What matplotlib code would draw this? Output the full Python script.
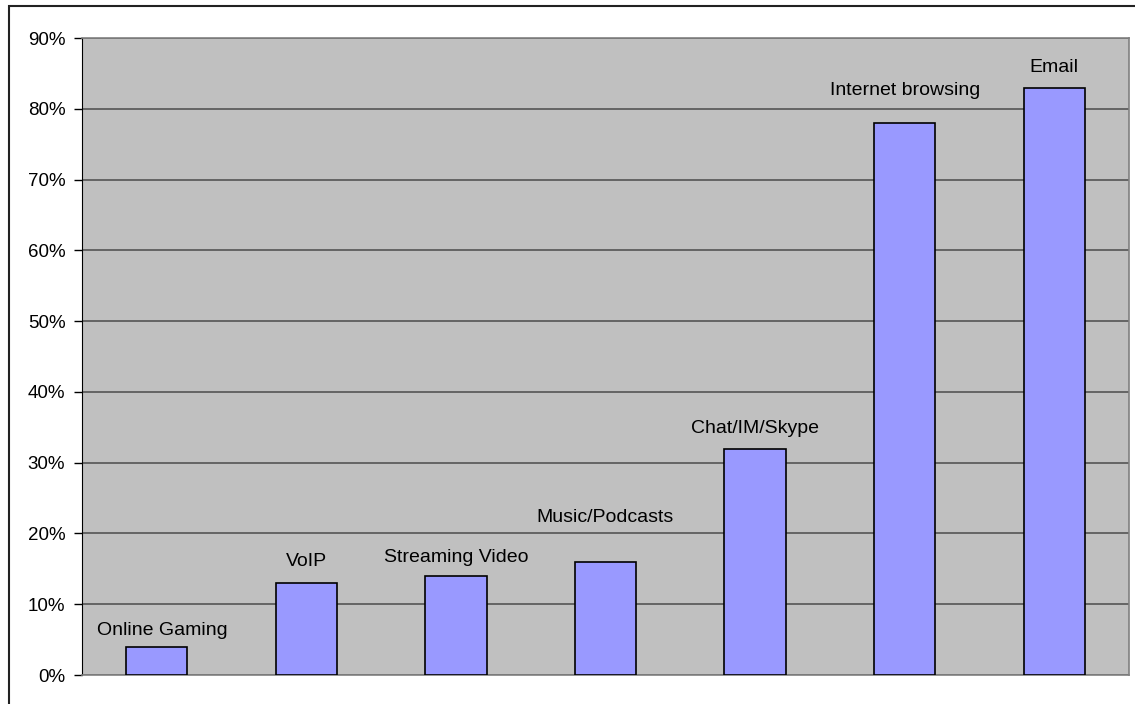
import matplotlib.pyplot as plt
from matplotlib.patches import Rectangle
from matplotlib.ticker import PercentFormatter

plt.rcParams['font.family'] = ['Liberation Sans', 'DejaVu Sans']

categories = ['Online Gaming', 'VoIP', 'Streaming Video', 'Music/Podcasts',
              'Chat/IM/Skype', 'Internet browsing', 'Email']
values = [4, 13, 14, 16, 32, 78, 83]
# labels were placed by hand in the original, baseline heights in %
label_y = [5.6, 15.4, 16.0, 21.6, 34.2, 81.9, 85.2]
yticks = list(range(0, 91, 10))

W, H = 1135, 704
fig = plt.figure(figsize=(W / 100, H / 100), dpi=100)
ax = fig.add_axes([82 / W, 1 - 675 / H, (1129 - 82) / W, (675 - 38) / H])
ax.set_facecolor('#c0c0c0')

x = list(range(len(categories)))
ax.bar(x, values, width=0.41, color='#9999ff', edgecolor='black',
       linewidth=1.2, zorder=3)
for xi, ly, name in zip(x, label_y, categories):
    ax.text(xi + (0.04 if xi == 0 else 0), ly, name, ha='center',
            va='baseline', fontsize=14, zorder=4)

ax.set_xlim(-0.5, len(categories) - 0.5)
ax.set_ylim(0, 90)
ax.set_yticks(yticks)
ax.yaxis.set_major_formatter(PercentFormatter(decimals=0))
ax.tick_params(axis='y', length=6, width=1, labelsize=13.5, pad=6)
ax.set_xticks([])
ax.yaxis.grid(True, color='#555555', linewidth=1.2, zorder=0)
ax.set_axisbelow(True)

for side in ['top', 'right', 'bottom']:
    ax.spines[side].set_color('#808080')
    ax.spines[side].set_linewidth(1.2)
ax.spines['left'].set_color('black')

# outer frame of the chart (runs off the right and bottom)
fig.patches.append(Rectangle((8.5 / W, -0.05), 1.1, 1 - 5.5 / H + 0.05,
                             transform=fig.transFigure, fill=False,
                             edgecolor='#222222', linewidth=1.5))

fig.savefig('out.png', dpi=100)
